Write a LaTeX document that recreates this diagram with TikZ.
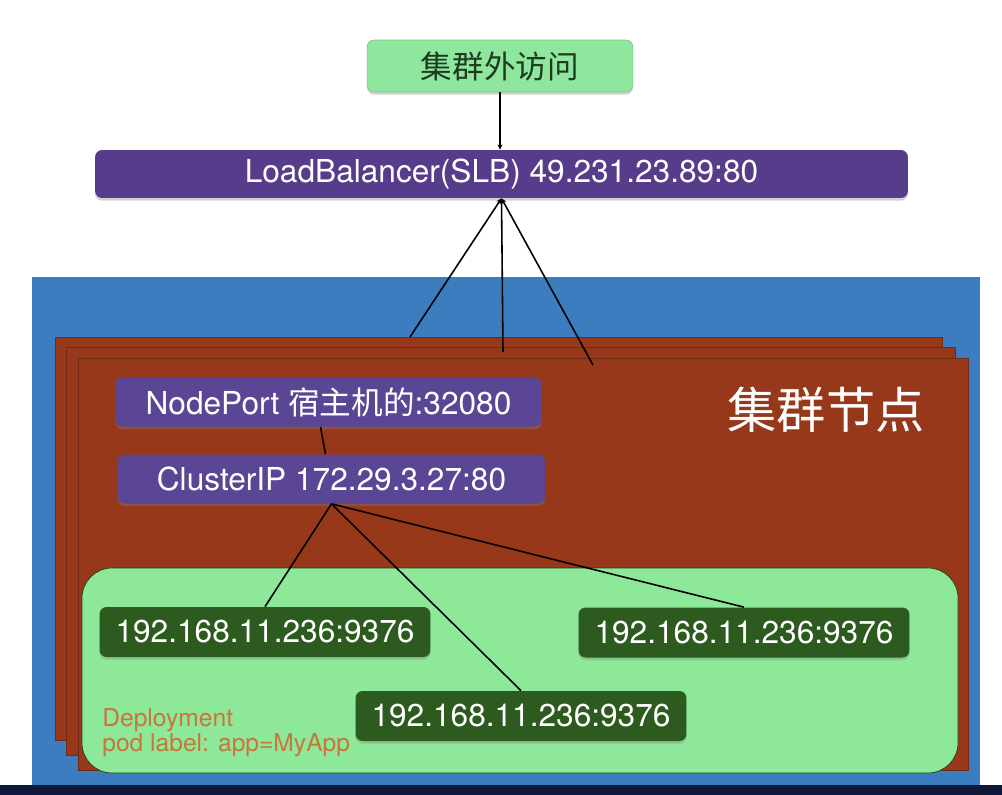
\documentclass[tikz,border=0pt]{standalone}
\usepackage{fontspec}
\setmainfont{TeX Gyre Heros}
\newfontfamily\cjk{Noto Sans CJK SC}
\usetikzlibrary{arrows.meta, positioning, shadows}
\definecolor{clusterblue}{HTML}{3B7DBF}
\definecolor{hostred}{HTML}{98381A}
\definecolor{podarea}{HTML}{8DE89A}
\definecolor{podgreen}{HTML}{2D5A1F}
\definecolor{lbpurple}{HTML}{583C8C}
\definecolor{svcpurple}{HTML}{5B4595}
\definecolor{outgreen}{HTML}{8EE79D}
\definecolor{outtext}{HTML}{1E3A20}
\definecolor{deployorange}{HTML}{C8763A}
\definecolor{navystrip}{HTML}{0F1838}

\begin{document}
\begin{tikzpicture}[
    x=0.02cm, y=-0.02cm,
    box/.style={
        rectangle, rounded corners=4pt, inner sep=0pt,
        font=\fontsize{18}{20}\selectfont, text=white,
        drop shadow={shadow xshift=0pt, shadow yshift=-1.5pt, opacity=0.35}
    },
    lbbox/.style={box, fill=lbpurple, minimum width=16.26cm, minimum height=0.96cm},
    svcbox/.style={box, fill=svcpurple, minimum width=8.54cm, minimum height=0.98cm},
    podbox/.style={box, fill=podgreen, minimum width=6.62cm, minimum height=1.0cm},
    hostlayer/.style={fill=hostred, draw=hostred!75!black, line width=0.4pt},
    link/.style={black, line width=0.9pt},
    uparr/.style={link, {Stealth[length=3pt, width=3pt]}-},
]

\useasboundingbox (0,0) rectangle (1002,795);
\fill[white] (0,0) rectangle (1002,795);

% ── Cluster background ────────────────
\fill[navystrip] (0,785) rectangle (1002,795);
\fill[clusterblue] (32,277) rectangle (980,785);

% ── Host node layers ──────────────────
\draw[hostlayer] (55,337) rectangle (942,740);
\draw[hostlayer] (66,347) rectangle (955,755);
\draw[hostlayer] (78,358) rectangle (968,770);
\node[text=white, font=\cjk\fontsize{28}{30}\selectfont] (hostlabel) at (826,410) {集群节点};

% ── Deployment area ───────────────────
\draw[fill=podarea, draw=podgreen!70!black, line width=0.4pt, rounded corners=0.6cm]
    (82,568) rectangle (958,773);
\node[anchor=north west, inner sep=0pt, align=left, text=deployorange,
      font=\fontsize{14}{13}\selectfont] (deploy) at (102,708)
    {Deployment\\pod label: app=MyApp};

% ── Boxes ─────────────────────────────
\node[box, fill=outgreen, draw=outgreen!85!black, line width=0.3pt, text=outtext,
      minimum width=5.32cm, minimum height=1.04cm, font=\cjk\fontsize{18}{20}\selectfont]
    (outside) at (500,66) {集群外访问};
\node[lbbox] (lb) at (501.5,174) {LoadBalancer(SLB) 49.231.23.89:80};
\node[svcbox] (nodeport) at (328.5,402) {NodePort {\cjk 宿主机的}:32080};
\node[svcbox] (clusterip) at (331.5,479) {ClusterIP 172.29.3.27:80};
\node[podbox] (pod1) at (265,632) {192.168.11.236:9376};
\node[podbox] (pod2) at (744,632.5) {192.168.11.236:9376};
\node[podbox] (pod3) at (521,716) {192.168.11.236:9376};

% ── Layer tops reached by the balancer ─
\coordinate (host1) at (410,337);
\coordinate (host2) at (503,352);
\coordinate (host3) at (593,365);

% ── Connectors ────────────────────────
\draw[link, -{Stealth[length=3pt, width=3pt]}] (outside.south) -- (outside.south |- lb.north);
\draw[uparr] (lb.south) -- (host1);
\draw[uparr] (lb.south) -- (host2);
\draw[uparr] (lb.south) -- (host3);
\draw[link] ([xshift=-0.16cm]nodeport.south) -- ([xshift=-0.12cm]clusterip.north);
\draw[link] (clusterip.south) -- (pod1.north);
\draw[link] (clusterip.south) -- (pod3.north);
\draw[link] (clusterip.south) -- (pod2.north);

\end{tikzpicture}
\end{document}
